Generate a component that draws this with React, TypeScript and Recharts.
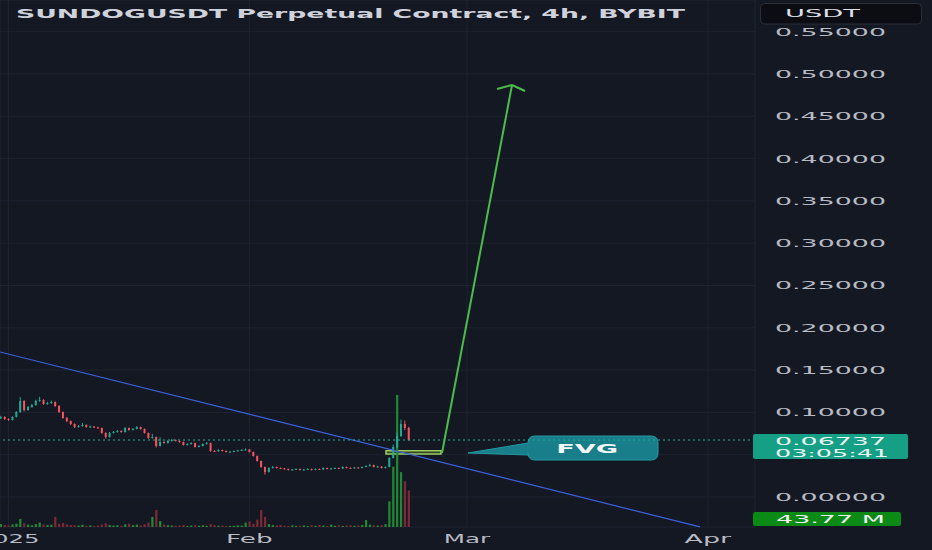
import React from 'react';
import { ComposedChart, Bar, XAxis, YAxis, CartesianGrid, ReferenceLine, ReferenceArea } from 'recharts';

const BG = '#141823';
const UP = '#22ab94';
const DOWN = '#f7525f';
const VOL_UP = '#1f8a34';
const VOL_DOWN = '#7c2a36';
const GRID = '#1f2330';
const AXIS_TEXT = '#b8bbc4';
const FONT = '"DejaVu Sans", Verdana, sans-serif';

// 12h buckets, first one starts on Dec 31 (day -1 from Jan 1)
const startDay = -1;
const stepDays = 0.5;
const firstOpen = 0.093;

const closes = [
  0.0946, 0.0922, 0.0910, 0.0946, 0.1005, 0.1135, 0.1028, 0.1064, 0.1087, 0.1135,
  0.1147, 0.1099, 0.1111, 0.1123, 0.1076, 0.1005, 0.0934, 0.0898, 0.0863, 0.0827,
  0.0839, 0.0851, 0.0827, 0.0833, 0.0822, 0.0816, 0.0757, 0.0709, 0.0757, 0.0768,
  0.0780, 0.0768, 0.0816, 0.0792, 0.0804, 0.0827, 0.0804, 0.0757, 0.0697, 0.0709,
  0.0603, 0.0650, 0.0638, 0.0662, 0.0674, 0.0662, 0.0650, 0.0615, 0.0626, 0.0638,
  0.0591, 0.0603, 0.0626, 0.0638, 0.0544, 0.0540, 0.0556, 0.0544, 0.0532, 0.0536,
  0.0544, 0.0550, 0.0556, 0.0562, 0.0532, 0.0485, 0.0426, 0.0355, 0.0296, 0.0343,
  0.0355, 0.0343, 0.0338, 0.0331, 0.0319, 0.0325, 0.0331, 0.0319, 0.0325, 0.0331,
  0.0319, 0.0331, 0.0326, 0.0343, 0.0331, 0.0338, 0.0343, 0.0336, 0.0355, 0.0343,
  0.0338, 0.0349, 0.0343, 0.0355, 0.0366, 0.0378, 0.0355, 0.0360, 0.0343, 0.0355,
  0.0461, 0.0591, 0.0721, 0.0863, 0.0816, 0.06737,
];

const highs = [
  0.0960, 0.0955, 0.0930, 0.0955, 0.1015, 0.1180, 0.1145, 0.1075, 0.1100, 0.1150,
  0.1185, 0.1155, 0.1125, 0.1140, 0.1130, 0.1085, 0.1010, 0.0945, 0.0905, 0.0870,
  0.0850, 0.0875, 0.0860, 0.0845, 0.0840, 0.0830, 0.0820, 0.0765, 0.0768, 0.0780,
  0.0792, 0.0788, 0.0825, 0.0822, 0.0815, 0.0838, 0.0832, 0.0810, 0.0762, 0.0745,
  0.0715, 0.0705, 0.0660, 0.0672, 0.0686, 0.0680, 0.0668, 0.0655, 0.0635, 0.0648,
  0.0642, 0.0612, 0.0635, 0.0650, 0.0642, 0.0555, 0.0565, 0.0560, 0.0550, 0.0545,
  0.0552, 0.0558, 0.0565, 0.0575, 0.0566, 0.0536, 0.0490, 0.0430, 0.0360, 0.0352,
  0.0366, 0.0360, 0.0350, 0.0345, 0.0336, 0.0332, 0.0338, 0.0336, 0.0333, 0.0340,
  0.0336, 0.0338, 0.0337, 0.0350, 0.0348, 0.0345, 0.0350, 0.0348, 0.0362, 0.0360,
  0.0350, 0.0356, 0.0354, 0.0362, 0.0375, 0.0392, 0.0382, 0.0368, 0.0364, 0.0362,
  0.0470, 0.0620, 0.0760, 0.0915, 0.0905, 0.0830,
];

const lows = [
  0.0920, 0.0912, 0.0900, 0.0905, 0.0940, 0.0995, 0.1010, 0.1020, 0.1055, 0.1080,
  0.1125, 0.1090, 0.1090, 0.1100, 0.1065, 0.0995, 0.0925, 0.0885, 0.0850, 0.0815,
  0.0820, 0.0830, 0.0820, 0.0818, 0.0815, 0.0808, 0.0748, 0.0690, 0.0700, 0.0750,
  0.0760, 0.0760, 0.0762, 0.0785, 0.0786, 0.0798, 0.0795, 0.0750, 0.0688, 0.0690,
  0.0585, 0.0598, 0.0630, 0.0632, 0.0655, 0.0655, 0.0642, 0.0608, 0.0608, 0.0620,
  0.0585, 0.0586, 0.0598, 0.0620, 0.0535, 0.0532, 0.0535, 0.0538, 0.0526, 0.0528,
  0.0530, 0.0540, 0.0545, 0.0550, 0.0525, 0.0478, 0.0418, 0.0345, 0.0265, 0.0290,
  0.0336, 0.0336, 0.0330, 0.0325, 0.0312, 0.0314, 0.0320, 0.0313, 0.0314, 0.0320,
  0.0313, 0.0315, 0.0320, 0.0322, 0.0326, 0.0326, 0.0333, 0.0330, 0.0332, 0.0338,
  0.0332, 0.0334, 0.0338, 0.0338, 0.0350, 0.0360, 0.0350, 0.0348, 0.0338, 0.0338,
  0.0350, 0.0455, 0.0580, 0.0710, 0.0790, 0.0665,
];

// volume in millions
const volumes = [
  16, 11, 9, 14, 18, 44, 20, 13, 10, 16,
  24, 14, 11, 13, 55, 18, 22, 14, 11, 10,
  8, 12, 7, 9, 6, 8, 13, 20, 11, 8,
  10, 7, 15, 18, 10, 13, 9, 15, 24, 55,
  93, 32, 13, 10, 8, 7, 9, 11, 6, 8,
  10, 7, 9, 6, 16, 10, 7, 8, 6, 6,
  7, 9, 8, 24, 30, 18, 40, 93, 55, 16,
  11, 8, 10, 7, 6, 9, 6, 7, 8, 6,
  10, 7, 11, 8, 6, 13, 7, 9, 6, 8,
  10, 7, 9, 11, 38, 13, 10, 8, 11, 16,
  140, 330, 722, 300, 250, 200,
];

const priceTicks = [0, 0.05, 0.1, 0.15, 0.2, 0.25, 0.3, 0.35, 0.4, 0.45, 0.5, 0.55];
const monthTicks = [0, 31, 59, 90];
const monthLabels = ['2025', 'Feb', 'Mar', 'Apr'];

const title = 'SUNDOGUSDT Perpetual Contract, 4h, BYBIT';
const currency = 'USDT';
const lastPrice = 0.06737;
const countdown = '03:05:41';
const lastVolume = 43.77;
const lastVolumeText = '43.77 M';

// drawings, as (day, price)
const trendline = [{ x: -1.094, y: 0.1714 }, { x: 89.0, y: -0.0354 }];
const arrowShaft = [{ x: 55.79, y: 0.052 }, { x: 64.8, y: 0.487 }];
const arrowHeadLeft = [{ x: 62.87, y: 0.4823 }, { x: 64.8, y: 0.487 }];
const arrowHeadRight = [{ x: 66.47, y: 0.4799 }, { x: 64.8, y: 0.487 }];
const fvgZone = { x1: 48.58, x2: 55.66, y1: 0.0508, y2: 0.0547 };
const calloutBox = { x1: 66.86, x2: 83.59, y1: 0.0437, y2: 0.0721 };
const calloutText = 'FVG';

const xDomain = [-1.094, 96.07];
const priceDomain = [-0.03546, 0.58747];
const volDomain = [0, 2880];

const candles = closes.map((close, i) => ({
  day: startDay + i * stepDays,
  open: i === 0 ? firstOpen : closes[i - 1],
  close,
  high: highs[i],
  low: lows[i],
  vol: volumes[i],
}));

const Candle = (props: any) => {
  const { x, y, width, height, payload } = props;
  const { open, close, high, low } = payload;
  const top = Math.min(y, y + height);
  const h = Math.abs(height);
  const k = high > low ? h / (high - low) : 0;
  const yo = top + (high - open) * k;
  const yc = top + (high - close) * k;
  const color = close >= open ? UP : DOWN;
  const cx = x + width / 2;
  return (
    <g>
      <line x1={cx} x2={cx} y1={top} y2={top + h} stroke={color} strokeWidth={1} />
      <rect x={x} y={Math.min(yo, yc)} width={width} height={Math.max(1, Math.abs(yo - yc))} fill={color} />
    </g>
  );
};

const VolumeBar = (props: any) => {
  const { x, y, width, height, payload } = props;
  const color = payload.close >= payload.open ? VOL_UP : VOL_DOWN;
  return <rect x={x} y={Math.min(y, y + height)} width={width} height={Math.abs(height)} fill={color} />;
};

const PriceTick = ({ x, y, payload }: any) => {
  // labels hidden behind the last price badge
  if (Math.abs(payload.value - lastPrice) < 0.02) return null;
  return (
    <text x={x} y={y} dy="0.36em" fill={AXIS_TEXT} fontSize={11} fontFamily={FONT}
      textLength={111} lengthAdjust="spacingAndGlyphs">
      {payload.value.toFixed(5)}
    </text>
  );
};

const MonthTick = ({ x, y, payload }: any) => {
  const label = monthLabels[monthTicks.indexOf(payload.value)];
  return (
    <text x={x} y={y} dy={9.5} textAnchor="middle" fill={AXIS_TEXT} fontSize={12.5} fontFamily={FONT}
      textLength={label.length * 15.5} lengthAdjust="spacingAndGlyphs">
      {label}
    </text>
  );
};

const PriceBadge = ({ viewBox }: any) => {
  const x = viewBox.x + viewBox.width - 2;
  const y = viewBox.y;
  return (
    <g>
      <rect x={x} y={y - 6} width={155} height={25} rx={2} fill="#15a085" />
      <text x={x + 22} y={y + 4.5} fill="#eef6f4" fontSize={10.5} fontFamily={FONT} textLength={111} lengthAdjust="spacingAndGlyphs">
        {lastPrice.toFixed(5)}
      </text>
      <text x={x + 22} y={y + 16.5} fill="#eef6f4" fontSize={10.5} fontFamily={FONT} textLength={114} lengthAdjust="spacingAndGlyphs">
        {countdown}
      </text>
    </g>
  );
};

const VolumeBadge = ({ viewBox }: any) => {
  const x = viewBox.x + viewBox.width - 2;
  const y = viewBox.y;
  return (
    <g>
      <rect x={x} y={y - 7} width={148} height={14} rx={2} fill="#0c8a16" />
      <text x={x + 23} y={y + 4} fill="#f2f2f2" fontSize={11} fontFamily={FONT} textLength={109} lengthAdjust="spacingAndGlyphs">
        {lastVolumeText}
      </text>
    </g>
  );
};

const Callout = ({ x, y, width, height }: any) => {
  const r = 7;
  const d = [
    `M ${x + r} ${y}`,
    `H ${x + width - r}`,
    `Q ${x + width} ${y} ${x + width} ${y + r}`,
    `V ${y + height - r}`,
    `Q ${x + width} ${y + height} ${x + width - r} ${y + height}`,
    `H ${x + r}`,
    `Q ${x} ${y + height} ${x} ${y + height - r}`,
    `V ${y + 19}`,
    `L ${x - 60} ${y + 17}`,
    `L ${x} ${y + 7}`,
    `V ${y + r}`,
    `Q ${x} ${y} ${x + r} ${y}`,
    'Z',
  ].join(' ');
  return (
    <g>
      <path d={d} fill="#187e8a" stroke="#2497a2" strokeWidth={1} />
      <text x={x + width * 0.455} y={y + 16.5} textAnchor="middle" fill="#f4f7f8" fontSize={11.5} fontWeight="bold"
        fontFamily={FONT} textLength={62} lengthAdjust="spacingAndGlyphs">
        {calloutText}
      </text>
    </g>
  );
};

export default function App() {
  return (
    <div style={{ position: 'fixed', left: 0, top: 0, width: 932, height: 550, background: BG, overflow: 'hidden' }}>
      <ComposedChart width={932} height={550} data={candles} margin={{ top: 0, right: 0, bottom: 0, left: 0 }}>
        <CartesianGrid xAxisId="main" yAxisId="price" stroke={GRID} strokeWidth={1} />
        <XAxis xAxisId="main" dataKey="day" type="number" domain={xDomain} allowDataOverflow ticks={monthTicks}
          interval={0} height={23} axisLine={false} tickLine={false} tickSize={0} tickMargin={6}
          tick={(p: any) => <MonthTick {...p} />} />
        <XAxis xAxisId="v" dataKey="day" type="number" domain={xDomain} allowDataOverflow hide />
        <YAxis yAxisId="price" orientation="right" width={177} domain={priceDomain} allowDataOverflow
          ticks={priceTicks} interval={0} axisLine={false} tickLine={false} tickSize={0} tickMargin={20}
          tick={(p: any) => <PriceTick {...p} />} />
        <YAxis yAxisId="vol" domain={volDomain} allowDataOverflow hide />

        <Bar xAxisId="v" yAxisId="vol" dataKey="vol" barSize={2.2} shape={(p: any) => <VolumeBar {...p} />}
          isAnimationActive={false} />
        <Bar xAxisId="main" yAxisId="price" dataKey={(d: any) => [d.low, d.high]} barSize={2}
          shape={(p: any) => <Candle {...p} />} isAnimationActive={false} />

        <ReferenceLine xAxisId="main" yAxisId="price" segment={trendline} stroke="#3a63e0" strokeWidth={1.2}
          ifOverflow="visible" />
        <ReferenceArea xAxisId="main" yAxisId="price" x1={fvgZone.x1} x2={fvgZone.x2} y1={fvgZone.y1} y2={fvgZone.y2}
          fill="#8fbf4a" fillOpacity={0.25} stroke="#9ccc5a" strokeWidth={1.5} ifOverflow="visible" />
        <ReferenceLine xAxisId="main" yAxisId="price" y={lastPrice} stroke={UP} strokeDasharray="2 3" strokeWidth={1}
          label={(p: any) => <PriceBadge {...p} />} />
        <ReferenceLine xAxisId="main" yAxisId="price" segment={arrowShaft} stroke="#4cbb4c" strokeWidth={2}
          ifOverflow="visible" />
        <ReferenceLine xAxisId="main" yAxisId="price" segment={arrowHeadLeft} stroke="#4cbb4c" strokeWidth={2}
          ifOverflow="visible" />
        <ReferenceLine xAxisId="main" yAxisId="price" segment={arrowHeadRight} stroke="#4cbb4c" strokeWidth={2}
          ifOverflow="visible" />
        <ReferenceArea xAxisId="main" yAxisId="price" x1={calloutBox.x1} x2={calloutBox.x2} y1={calloutBox.y1}
          y2={calloutBox.y2} ifOverflow="visible" shape={(p: any) => <Callout {...p} />} />
        <ReferenceLine xAxisId="v" yAxisId="vol" y={lastVolume} stroke="none"
          label={(p: any) => <VolumeBadge {...p} />} />
      </ComposedChart>
      <svg width={932} height={30} style={{ position: 'absolute', left: 0, top: 0, pointerEvents: 'none' }}>
        <text x={16} y={18.3} fill="#cfd2da" fontSize={12.5} fontWeight="bold" fontFamily={FONT}
          textLength={669} lengthAdjust="spacingAndGlyphs">
          {title}
        </text>
        <rect x={760.5} y={3.5} width={161} height={20.5} rx={4} fill="#0b0d12" stroke="#2a2e39" />
        <text x={785} y={17.3} fill="#dcdfe6" fontSize={11} fontFamily={FONT} textLength={75}
          lengthAdjust="spacingAndGlyphs">
          {currency}
        </text>
      </svg>
    </div>
  );
}
